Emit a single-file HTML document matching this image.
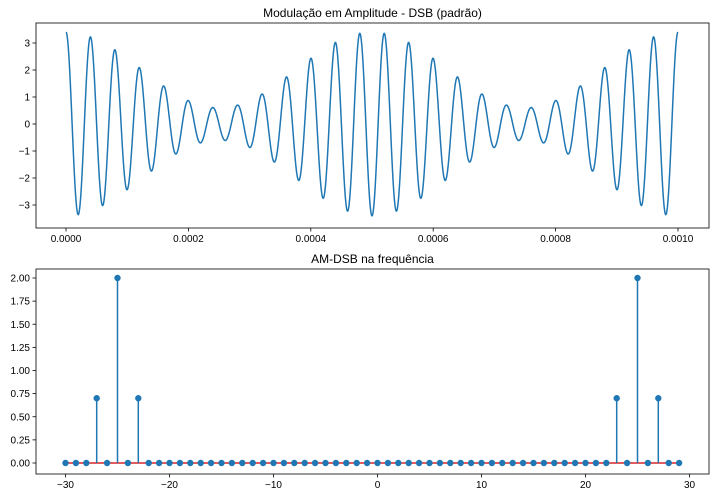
<!DOCTYPE html>
<html><head><meta charset="utf-8"><style>
html,body{margin:0;padding:0;background:#fff;}
svg{display:block;font-family:"Liberation Sans","DejaVu Sans",sans-serif;}
</style></head><body>
<svg id="c" width="719" height="496" viewBox="0 0 719 496"></svg>
<script>
// spectrum data (frequency in kHz, magnitude)
const stemFreqs = [];
for (let f = -30; f <= 29; f++) stemFreqs.push(f);
const peakFreqs = [-27, -25, -23, 23, 25, 27];
const peakMags = [0.7, 2.0, 0.7, 0.7, 2.0, 0.7];
const topYTicks = [-3, -2, -1, 0, 1, 2, 3];
const topXTicks = [0, 0.0002, 0.0004, 0.0006, 0.0008, 0.001];
const topXLabels = ["0.0000", "0.0002", "0.0004", "0.0006", "0.0008", "0.0010"];
const botYTicks = [0, 0.25, 0.5, 0.75, 1.0, 1.25, 1.5, 1.75, 2.0];
const botYLabels = ["0.00", "0.25", "0.50", "0.75", "1.00", "1.25", "1.50", "1.75", "2.00"];
const botXTicks = [-30, -20, -10, 0, 10, 20, 30];

const NS = "http://www.w3.org/2000/svg";
const svg = document.getElementById("c");
function mk(tag, attrs, parent) {
  const e = document.createElementNS(NS, tag);
  for (const k in attrs) e.setAttribute(k, attrs[k]);
  (parent || svg).appendChild(e);
  return e;
}
function mag(f) { const i = peakFreqs.indexOf(f); return i >= 0 ? peakMags[i] : 0; }

// top axes
const T = {l: 36, r: 709, t: 23, b: 228};
const tx = v => 66 + (v / 0.001) * (678 - 66);
const ty = v => 124 - v * 27;
let d = "";
const N = 2000;
for (let i = 0; i <= N; i++) {
  const t = 0.001 * i / N;
  let s = 0;
  for (let k = 0; k < peakFreqs.length; k++) s += peakMags[k] / 2 * Math.cos(2 * Math.PI * peakFreqs[k] * 1000 * t);
  d += (i ? "L" : "M") + tx(t).toFixed(2) + "," + ty(s).toFixed(2);
}
const sig = mk("path", {d: d, fill: "none", stroke: "#1f77b4", "stroke-width": 1.5});


const tf = mk("rect", {x: T.l, y: T.t, width: T.r - T.l, height: T.b - T.t, fill: "none", stroke: "#000", "stroke-width": 0.8});


topYTicks.forEach(v => {
  mk("line", {x1: T.l - 3.5, x2: T.l, y1: ty(v), y2: ty(v), stroke: "#000", "stroke-width": 0.8});
  const e = mk("text", {x: T.l - 6, y: ty(v) + 3.5, "text-anchor": "end", "font-size": 10});
  e.textContent = v < 0 ? "\u2212" + (-v) : v;
  
  
});
topXTicks.forEach((v, i) => {
  mk("line", {x1: tx(v), x2: tx(v), y1: T.b, y2: T.b + 3.5, stroke: "#000", "stroke-width": 0.8});
  const e = mk("text", {x: tx(v), y: T.b + 14, "text-anchor": "middle", "font-size": 10});
  e.textContent = topXLabels[i];
  
  
});
const t1 = mk("text", {x: (T.l + T.r) / 2, y: T.t - 6, "text-anchor": "middle", "font-size": 12});
t1.textContent = "Modulação em Amplitude - DSB (padrão)";



// bottom axes
const B = {l: 36, r: 709, t: 269, b: 474};
const bx = v => 377.5 + v * 10.4;
const by = v => 463 - v * 92.5;
const base = mk("line", {x1: bx(-30), x2: bx(29), y1: by(0), y2: by(0), stroke: "#d62728", "stroke-width": 1.5});


stemFreqs.forEach(f => {
  const m = mag(f);
  if (m > 0) {
    const l = mk("line", {x1: bx(f), x2: bx(f), y1: by(0), y2: by(m), stroke: "#1f77b4", "stroke-width": 1.5});
    
    
  }
  const c = mk("circle", {cx: bx(f), cy: by(m), r: 3.2, fill: "#1f77b4"});
  
  
});
const bf = mk("rect", {x: B.l, y: B.t, width: B.r - B.l, height: B.b - B.t, fill: "none", stroke: "#000", "stroke-width": 0.8});


botYTicks.forEach((v, i) => {
  mk("line", {x1: B.l - 3.5, x2: B.l, y1: by(v), y2: by(v), stroke: "#000", "stroke-width": 0.8});
  const e = mk("text", {x: B.l - 6, y: by(v) + 3.5, "text-anchor": "end", "font-size": 10});
  e.textContent = botYLabels[i];
  
  
});
botXTicks.forEach(v => {
  mk("line", {x1: bx(v), x2: bx(v), y1: B.b, y2: B.b + 3.5, stroke: "#000", "stroke-width": 0.8});
  const e = mk("text", {x: bx(v), y: B.b + 14, "text-anchor": "middle", "font-size": 10});
  e.textContent = v < 0 ? "\u2212" + (-v) : v;
  
  
});
const t2 = mk("text", {x: (B.l + B.r) / 2, y: B.t - 6, "text-anchor": "middle", "font-size": 12});
t2.textContent = "AM-DSB na frequência";


</script>
</body></html>
